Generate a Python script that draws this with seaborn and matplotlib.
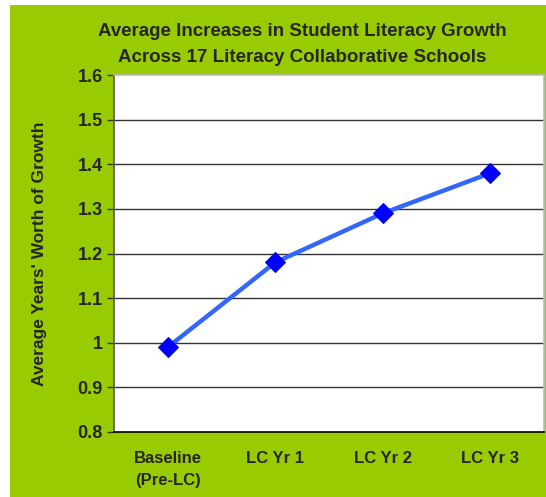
import matplotlib
matplotlib.use("Agg")
from matplotlib import pyplot as plt
from matplotlib.patches import Rectangle
import pandas as pd
import seaborn as sns

# chart data
stages = ["Baseline\n(Pre-LC)", "LC Yr 1", "LC Yr 2", "LC Yr 3"]
growth = [0.99, 1.18, 1.29, 1.38]
y_ticks = [0.8, 0.9, 1.0, 1.1, 1.2, 1.3, 1.4, 1.5, 1.6]
y_tick_labels = ["0.8", "0.9", "1", "1.1", "1.2", "1.3", "1.4", "1.5", "1.6"]

df = pd.DataFrame({"pos": range(len(stages)), "growth": growth})

sns.set_style("white")
plt.rcParams["font.family"] = ["Liberation Sans", "DejaVu Sans"]

green = "#99CC00"
fig = plt.figure(figsize=(5.46, 4.97), dpi=100)
fig.patch.set_facecolor("white")
# green chart area (small white margin at top and left)
fig.patches.append(Rectangle((10 / 546, 0), 1 - 10 / 546, 1 - 5 / 497,
                             transform=fig.transFigure, facecolor=green,
                             edgecolor="none", zorder=-10))

ax = fig.add_axes([114 / 546, 1 - 432 / 497, (544 - 114) / 546, (432 - 75) / 497])
ax.set_facecolor("white")

sns.lineplot(data=df, x="pos", y="growth", ax=ax, color="#3366FF", linewidth=3.2,
             marker="D", markersize=10, markerfacecolor="#0000FF",
             markeredgecolor="#0000FF", zorder=5)

ax.set_xlim(-0.5, len(stages) - 0.5)
ax.set_ylim(0.8, 1.6)
ax.set_yticks(y_ticks)
ax.set_yticklabels(y_tick_labels, fontsize=13, fontweight="bold")
for v in y_ticks[1:-1]:
    ax.axhline(v, color="#333333", linewidth=1, zorder=1)

ax.set_xticks(range(len(stages)))
ax.set_xticklabels(stages, fontsize=12, fontweight="bold", linespacing=1.55)
ax.set_xticks([i - 0.5 for i in range(len(stages) + 1)], minor=True)
ax.tick_params(axis="x", which="major", length=0, pad=14)
ax.tick_params(axis="x", which="minor", length=5, width=1, color="black", direction="out")
ax.tick_params(axis="y", length=5, width=1, color="#333333", direction="out", left=True, pad=3)

for side in ["top", "right"]:
    ax.spines[side].set_color("#BBBBBB")
    ax.spines[side].set_linewidth(1.2)
ax.spines["left"].set_color("#555555")
ax.spines["bottom"].set_color("black")
ax.spines["left"].set_linewidth(1.2)
ax.spines["bottom"].set_linewidth(1.2)

ax.set_xlabel("")
ax.set_ylabel("Average Years' Worth of Growth", fontsize=12.5, fontweight="bold", labelpad=22)

fig.text(302 / 546, 1 - 31 / 497, "Average Increases in Student Literacy Growth",
         ha="center", va="center", fontsize=13.5, fontweight="bold")
fig.text(302 / 546, 1 - 57 / 497, "Across 17 Literacy Collaborative Schools",
         ha="center", va="center", fontsize=13.5, fontweight="bold")

fig.savefig("out.png", dpi=100, facecolor=fig.get_facecolor())
